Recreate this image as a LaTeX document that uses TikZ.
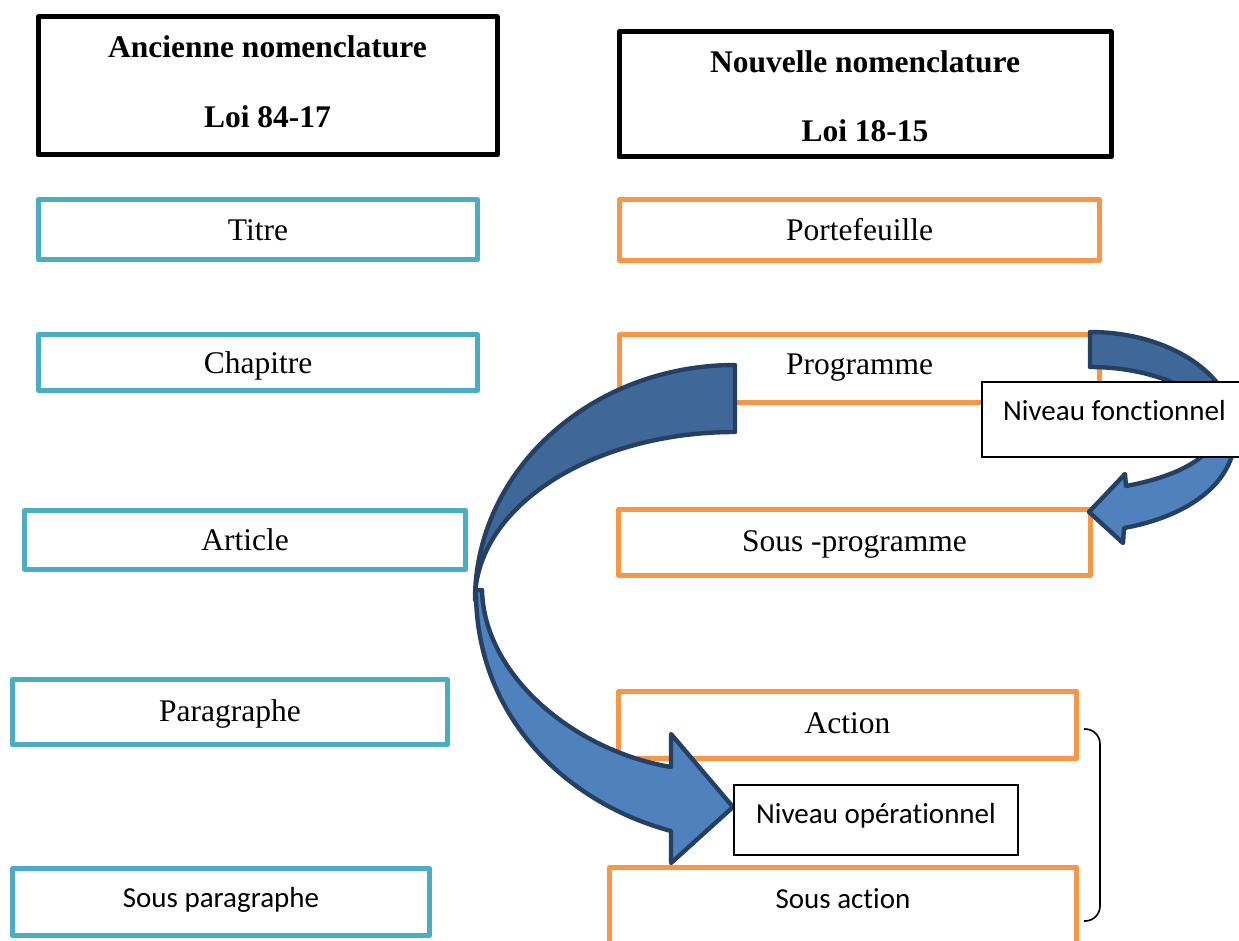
\documentclass[tikz,border=0pt]{standalone}
\usepackage{fontspec}
\setmainfont{Liberation Serif}
\newfontfamily\carlito[Ligatures=NoCommon]{Carlito}
\definecolor{boxblue}{HTML}{4BACC6}
\definecolor{boxorange}{HTML}{F79646}
\definecolor{arrowfront}{HTML}{4F81BD}
\definecolor{arrowback}{HTML}{3F6797}
\definecolor{arrowline}{HTML}{264064}
\begin{document}
\begin{tikzpicture}[x=1pt,y=-1pt,
  header/.style={draw=black, line width=5pt, rectangle, inner sep=0pt, line join=round},
  oldbox/.style={draw=boxblue, line width=5pt, rectangle, inner sep=0pt, line join=round},
  newbox/.style={draw=boxorange, line width=5pt, rectangle, inner sep=0pt, line join=round},
  labelbox/.style={draw=black, fill=white, line width=1.1pt, rectangle, inner sep=0pt},
  txt/.style={anchor=base, inner sep=0pt, font=\fontsize{31.5}{38}\selectfont},
  btxt/.style={anchor=base, inner sep=0pt, font=\fontsize{31.5}{38}\selectfont\bfseries},
  ctxt/.style={anchor=base, inner sep=0pt, font=\fontsize{29}{35}\selectfont\carlito},
  backband/.style={fill=arrowback, draw=arrowline, line width=4.4pt, line join=round},
  frontband/.style={fill=arrowfront, draw=arrowline, line width=4.4pt, line join=round}]
\clip (0,0) rectangle (1239,941);
\fill[white] (0,0) rectangle (1239,941);

% headers
\node[header, minimum width=459pt, minimum height=138pt] (hOld) at (267.5,86) {};
\node[btxt] (hOld1) at (267.5,58) {Ancienne nomenclature};
\node[btxt] (hOld2) at (267.5,128) {Loi 84-17};
\node[header, minimum width=492pt, minimum height=125pt] (hNew) at (865,94.5) {};
\node[btxt] (hNew1) at (865,73) {Nouvelle nomenclature};
\node[btxt] (hNew2) at (865,142) {Loi 18-15};

% old column
\node[oldbox, minimum width=439pt, minimum height=60.5pt] (bTitre) at (258,229.75) {};
\node[txt] (tTitre) at (258,241) {Titre};
\node[oldbox, minimum width=439pt, minimum height=56pt] (bChap) at (258,362.5) {};
\node[txt] (tChap) at (258,373) {Chapitre};
\node[oldbox, minimum width=441pt, minimum height=59pt] (bArt) at (245,540) {};
\node[txt] (tArt) at (245,550) {Article};
\node[oldbox, minimum width=435pt, minimum height=65pt] (bPar) at (230,712) {};
\node[txt] (tPar) at (230,721) {Paragraphe};
\node[oldbox, minimum width=417pt, minimum height=67pt] (bSPar) at (221,902) {};
\node[ctxt] (tSPar) at (221,907) {Sous paragraphe};

% new column
\node[newbox, minimum width=480pt, minimum height=61pt] (bPort) at (859.5,230) {};
\node[txt] (tPort) at (859.5,241) {Portefeuille};
\node[newbox, minimum width=480pt, minimum height=67.5pt] (bProg) at (859.5,368.25) {};
\node[txt] (tProg) at (859.5,374) {Programme};
\node[newbox, minimum width=472pt, minimum height=66pt] (bSProg) at (854.5,542.5) {};
\node[txt] (tSProg) at (854.5,551) {Sous -programme};
\node[newbox, minimum width=458pt, minimum height=67pt] (bAct) at (847.5,725) {};
\node[txt] (tAct) at (847.5,733) {Action};
\node[newbox, minimum width=467pt, minimum height=92.5pt] (bSAct) at (843,913.75) {};
\node[ctxt] (tSAct) at (843,908) {Sous action};

% big curved arrow
\draw[frontband] (476,590) .. controls (475,711) and (560,801) .. (671,831)
  -- (671,863) -- (733,807) -- (671,734) -- (671,767)
  .. controls (575,751) and (484,676) .. (482,590) -- cycle;
\draw[backband] (735,365) .. controls (591.4,365) and (475,470.2) .. (475,600)
  .. controls (475,507.2) and (591.4,432) .. (735,432) -- cycle;

% small curved arrow
\draw[frontband] (1235,430) .. controls (1238,481) and (1190,516) .. (1124,528)
  -- (1123,543) -- (1089,512) -- (1125,474) -- (1126,486)
  .. controls (1170,478) and (1205,462) .. (1215,440) -- cycle;
\draw[backband] (1090,332) .. controls (1170.1,332) and (1235,375.9) .. (1235,430)
  -- (1232,450) .. controls (1232,404.2) and (1168.4,367) .. (1090,367) -- cycle;

% labels
\node[labelbox, minimum width=268pt, minimum height=75pt] (lFonc) at (1116,419.5) {};
\node[ctxt] (tFonc) at (1114.5,420) {Niveau fonctionnel};
\node[labelbox, minimum width=284pt, minimum height=70pt] (lOper) at (876,820) {};
\node[ctxt] (tOper) at (876,823) {Niveau opérationnel};

% bracket
\coordinate (brTop) at (1084,729);
\coordinate (brBot) at (1084,921);
\draw[line width=1.6pt, rounded corners=15pt] (brTop) -- (1100,729) -- (1100,921) -- (brBot);
\end{tikzpicture}
\end{document}
